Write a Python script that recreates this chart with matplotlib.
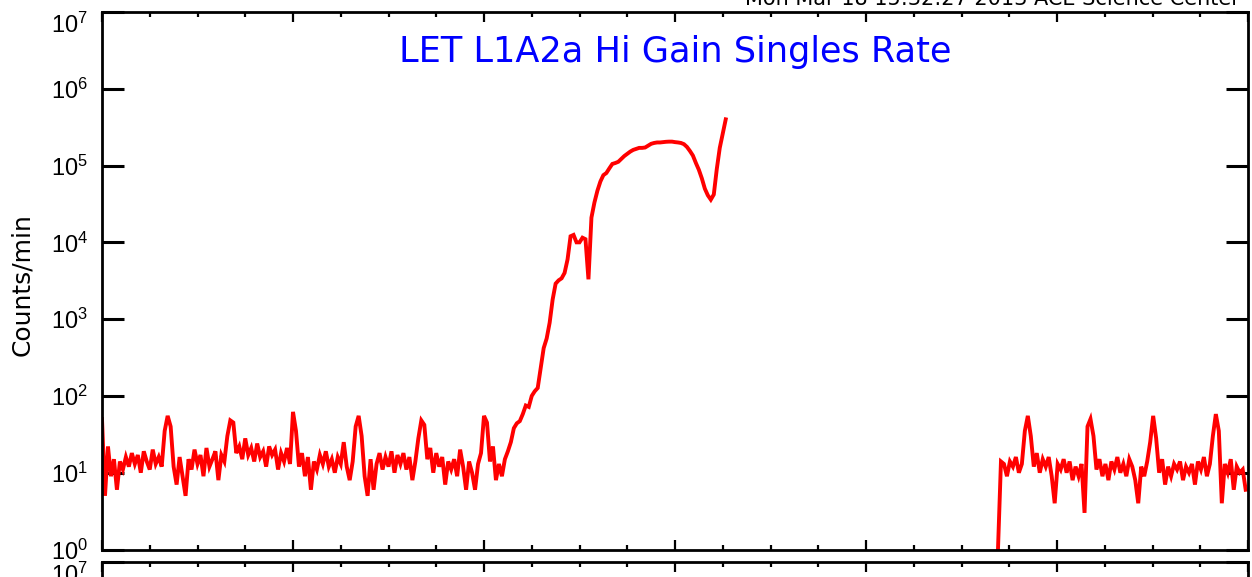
import numpy as np
import matplotlib
matplotlib.use("Agg")
import matplotlib.pyplot as plt
from matplotlib.ticker import MultipleLocator, LogLocator, NullLocator, NullFormatter
from matplotlib.transforms import ScaledTranslation

plt.rcParams['font.family'] = ['Liberation Sans', 'DejaVu Sans']

# ---------------- data ----------------
title = "LET L1A2a Hi Gain Singles Rate"
stamp = "Mon Mar 18 15:32:27 2013 ACE Science Center"
ylabel = "Counts/min"

step_days = 1.0 / 64.0          # sample cadence (days)
seg1_start = 0.0                 # days
seg2_start = 4.691               # days

# segment 1: quiet background then the event rise (counts/min)
seg1_counts = [
    50, 5, 22, 9, 15, 6, 14, 11, 16, 12, 18, 13, 17, 10, 19, 14, 11, 20, 13, 16,
    12, 35, 55, 40, 12, 7, 16, 9, 5, 15, 11, 20, 13, 17, 9, 21, 12, 15, 19, 8,
    17, 14, 30, 48, 45, 18, 22, 15, 28, 17, 21, 14, 24, 16, 19, 12, 22, 17, 20, 11,
    18, 14, 21, 13, 62, 35, 12, 18, 9, 16, 6, 14, 11, 17, 13, 19, 12, 15, 10, 16,
    13, 25, 12, 8, 14, 40, 55, 30, 9, 5, 15, 6, 13, 18, 11, 16, 12, 19, 10, 17,
    13, 18, 11, 16, 8, 14, 28, 48, 42, 15, 21, 10, 18, 12, 16, 7, 14, 11, 15, 9,
    20, 12, 6, 14, 10, 6, 13, 18, 55, 45, 14, 22, 8, 13, 9, 15, 19,
    25, 38, 44, 47, 58, 75, 72, 100, 115, 127, 230, 420, 560, 900, 1800, 2900,
    3200, 3400, 4000, 6000, 12000, 12500, 10000, 10000, 11500, 11000, 3300,
    21000, 33000, 47000, 62000, 75000, 80000, 92000, 105000, 108000, 112000,
    122000, 133000, 142000, 152000, 160000, 165000, 170000, 170000, 172000,
    182000, 192000, 197000, 200000, 200000, 202000, 204000, 205000, 205000,
    202000, 200000, 197000, 190000, 175000, 155000, 135000, 108000, 88000,
    68000, 50000, 41000, 36000, 42000, 90000, 170000, 260000, 400000,
]

# segment 2: after the data gap
seg2_counts = [
    1, 14, 13, 9, 14, 12, 16, 10, 13, 35, 55, 30, 12, 18, 10, 15, 12, 16, 9, 4,
    13, 11, 15, 10, 14, 8, 12, 9, 13, 3, 40, 50, 30, 11, 15, 9, 13, 8, 14, 11,
    16, 10, 13, 9, 15, 12, 8, 4, 12, 9, 14, 25, 55, 28, 10, 15, 7, 12, 9, 13,
    11, 14, 8, 12, 10, 13, 7, 14, 11, 16, 9, 13, 30, 58, 35, 4, 13, 10, 15, 6,
    12, 10, 11, 6,
]

x_range = (0, 6)
y_range = (1, 1e7)

# ---------------- figure ----------------
W, H, DPI = 1252, 577, 100
fig = plt.figure(figsize=(W / DPI, H / DPI), dpi=DPI)

ax_left = 102 / W
ax_w = (1248 - 102) / W
ax_top = 1 - 12 / H
ax_bot = 1 - 549.5 / H
ax_h = ax_top - ax_bot

ax = fig.add_axes([ax_left, ax_bot, ax_w, ax_h])
ax2_top = 1 - 562 / H
ax2 = fig.add_axes([ax_left, ax2_top - ax_h, ax_w, ax_h])

t1 = seg1_start + step_days * np.arange(len(seg1_counts))
t2 = seg2_start + step_days * np.arange(len(seg2_counts))
ax.plot(t1, seg1_counts, color='#ff0000', lw=2.8, solid_joinstyle='miter')
ax.plot(t2, seg2_counts, color='#ff0000', lw=2.8, solid_joinstyle='miter')

for a in (ax, ax2):
    a.set_yscale('log')
    a.set_xlim(*x_range)
    a.set_ylim(*y_range)
    a.yaxis.set_major_locator(LogLocator(base=10, numticks=10))
    a.yaxis.set_minor_locator(NullLocator())
    a.xaxis.set_major_locator(MultipleLocator(1))
    a.xaxis.set_minor_locator(MultipleLocator(0.25))
    a.xaxis.set_major_formatter(NullFormatter())
    for s in a.spines.values():
        s.set_linewidth(2.0)
        s.set_color('black')
    a.tick_params(axis='y', which='major', direction='in', left=True, right=True,
                  length=16, width=2.2, labelsize=17, pad=10)
    a.tick_params(axis='x', which='major', direction='in', top=True, bottom=True,
                  length=7.5, width=1.6)
    a.tick_params(axis='x', which='minor', direction='in', top=True, bottom=True,
                  length=3.8, width=1.6)
    a.set_facecolor('white')

ax.text(0.5, 0.925, title, transform=ax.transAxes, ha='center', va='center',
        color='#0000ff', fontsize=25.3, family=['DejaVu Sans'])
fig.text(1240 / W, 1 - 5 / H, stamp, ha='right', va='baseline', fontsize=15,
         family=['DejaVu Sans'])
fig.text(22 / W, 1 - 285 / H, ylabel, rotation=90, ha='center', va='center',
         fontsize=18, family=['DejaVu Sans'])

fig.canvas.draw()
# nudge the topmost (10^7) labels downward as in the reference
for a in (ax, ax2):
    for tk in a.yaxis.get_major_ticks():
        if abs(tk.get_loc() - 1e7) < 1:
            tk.label1.set_transform(tk.label1.get_transform() +
                                    ScaledTranslation(0, -8 / 72, fig.dpi_scale_trans))

fig.savefig('out.png', dpi=DPI, facecolor='white')
